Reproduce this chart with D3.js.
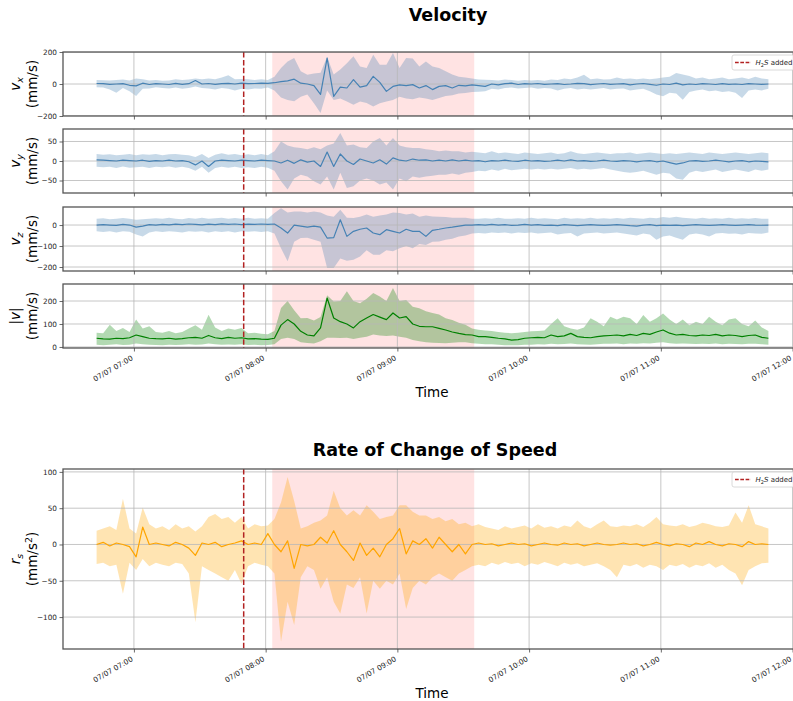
<!DOCTYPE html>
<html><head><meta charset="utf-8">
<script src="https://cdn.jsdelivr.net/npm/d3@7"></script>
<style>body{margin:0;background:#fff} svg{display:block;font-family:"DejaVu Sans",sans-serif}</style>
</head><body><svg id="c" width="793" height="701"></svg>
<script>
// ---- DATA (3-minute samples starting 07/07 06:43) ----
const startTime = "2023-07-07T06:43:00";
const stepMinutes = 3;
const h2sAddedTime = "2023-07-07T07:50:00";
const spanStart = "2023-07-07T08:03:00";
const spanEnd = "2023-07-07T09:35:00";
const tickTimes = ["2023-07-07T07:00:00","2023-07-07T08:00:00","2023-07-07T09:00:00","2023-07-07T10:00:00","2023-07-07T11:00:00","2023-07-07T12:00:00"];
const tickLabels = ["07/07 07:00","07/07 08:00","07/07 09:00","07/07 10:00","07/07 11:00","07/07 12:00"];

const vxMean = [3,2,-2,0,2,-8,-12,5,-3,2, 0,-3,4,-2,2,22,0,3,-2,2, 4,0,5,2,3,5,4,8,15,20,
 30,5,0,-10,-65,162,-77,-20,-25,27, -20,-10,48,10,-46,-15,-5,-10,-4,-25, -10,-35,-15,-10,-25,-8,-12,-5,-10,-15,
 0,-5,2,5,-3,2,0,3,-2,0, 2,-3,0,4,2,-4,0,3,-2,0, 2,-5,0,3,-2,-8,0,-3,5,-5, 0,-3,2,0,-3,2,-2,0,-3,2, 0,-2,0];
const vxLo = [-20,-22,-35,-55,-25,-45,-75,-30,-28,-20, -25,-28,-22,-30,-25,-15,-25,-28,-35,-25, -30,-40,-30,-35,-28,-30,-22,-40,-85,-100,
 -108,-80,-65,-120,-181,-40,-100,-90,-110,-129, -110,-119,-140,-120,-110,-100,-80,-90,-95,-85, -90,-100,-87,-75,-70,-60,-56,-50,-48,-45,
 -30,-35,-25,-22,-28,-25,-22,-30,-25,-28, -40,-30,-25,-35,-30,-35,-30,-25,-35,-30, -28,-40,-35,-30,-45,-65,-77,-55,-60,-98, -50,-40,-35,-45,-40,-50,-45,-55,-87,-40, -35,-40,-30];
const vxHi = [25,24,22,25,28,22,35,30,22,25, 20,22,30,25,28,35,30,35,30,40, 55,30,32,30,25,30,25,45,100,140,
 162,80,58,65,70,170,60,90,130,173, 110,100,183,120,120,193,100,162,160,110, 141,110,100,80,60,45,40,35,28,27,
 25,22,28,25,20,25,22,25,20,28, 25,35,30,40,58,30,35,28,30,40, 32,35,30,35,30,35,40,45,68,60, 50,35,40,30,35,40,30,35,40,32, 45,35,30];

const vyMean = [3,2,1,0,2,1,0,2,-1,1, 0,2,0,1,-2,-10,0,-14,0,2, 1,0,2,1,0,2,1,0,-5,2,
 -6,3,-3,0,-14,23,-14,18,0,-9, 5,0,-5,3,-8,8,2,0,5,2, 3,0,2,0,3,0,2,0,1,-2,
 1,0,2,0,-1,2,0,1,-1,0, 2,0,3,0,1,-1,0,2,0,-1, 1,0,-2,0,1,-2,0,-4,-8,-5, 0,1,-1,0,2,0,-2,0,1,-2, 0,-1,-2];
const vyLo = [-15,-16,-15,-18,-14,-17,-16,-15,-18,-15, -16,-14,-17,-15,-18,-25,-15,-30,-18,-15, -17,-15,-18,-16,-18,-15,-17,-25,-52,-73,
 -45,-35,-40,-52,-60,-40,-73,-30,-69,-65, -50,-45,-50,-60,-55,-73,-45,-52,-40,-43, -40,-38,-35,-35,-32,-35,-30,-28,-25,-26,
 -22,-25,-20,-24,-22,-20,-22,-20,-22,-20, -22,-20,-18,-22,-20,-22,-20,-18,-22,-25, -28,-30,-28,-25,-30,-35,-30,-32,-45,-48, -30,-25,-28,-25,-22,-28,-25,-22,-25,-28, -22,-25,-22];
const vyHi = [18,16,17,15,16,18,15,17,16,18, 15,17,18,16,15,10,18,8,16,20, 16,18,15,17,15,18,15,25,50,40,
 35,33,30,35,30,40,45,72,40,42, 35,33,50,59,40,59,40,35,33,33, 30,28,25,27,25,25,22,24,22,20,
 25,20,22,20,18,22,20,18,20,22, 18,20,25,20,18,20,22,20,18,20, 20,22,18,20,22,20,18,20,18,20, 22,20,18,22,20,18,20,22,20,18, 20,22,20];

const vzMean = [0,2,0,-2,3,0,-10,-5,2,0, 3,1,4,2,5,3,1,4,2,6, 3,5,2,4,3,5,3,5,-14,-38,
 0,-5,-10,-5,-10,-62,-60,25,-54,-30, -20,-14,-38,-46,-22,-30,-38,-20,-30,-30, -54,-25,-20,-14,-10,-5,0,0,2,0,
 3,0,2,-2,0,3,0,2,-2,0, -3,2,0,-3,0,2,0,-2,0,2, 0,-3,-5,0,2,-3,0,-2,0,-3, 0,2,0,-2,0,2,0,-2,0,2, 0,-1,0];
const vzLo = [-30,-33,-30,-35,-30,-32,-45,-55,-35,-30, -33,-30,-32,-35,-30,-32,-30,-35,-30,-33, -30,-35,-30,-32,-30,-33,-30,-40,-110,-173,
 -80,-62,-60,-70,-80,-205,-205,-160,-170,-165, -150,-120,-141,-141,-120,-125,-110,-100,-110,-90, -95,-80,-78,-70,-65,-55,-50,-40,-38,-40,
 -35,-38,-35,-40,-35,-38,-35,-40,-38,-35, -45,-40,-38,-54,-40,-38,-35,-40,-38,-35, -40,-45,-50,-40,-45,-70,-55,-50,-60,-70, -45,-40,-45,-55,-40,-38,-42,-40,-45,-38, -40,-42,-35];
const vzHi = [30,32,28,30,33,30,25,28,30,32, 30,35,30,28,33,30,35,30,32,35, 30,33,30,35,30,32,30,57,80,60,
 65,65,60,65,60,45,40,73,35,33, 40,50,40,45,50,60,57,50,55,40, 45,41,40,38,35,35,35,30,30,32,
 30,35,30,30,32,30,35,30,32,30, 28,35,30,32,30,35,30,32,30,33, 30,35,32,30,35,32,38,35,40,35, 32,30,35,30,32,30,35,30,32,30, 33,30,30];

const speedMean = [38,35,34,38,36,40,52,45,38,36, 35,38,34,36,40,42,38,50,40,36, 42,38,40,35,36,34,33,38,95,119,
 100,68,52,48,83,213,126,110,100,83, 110,126,141,130,119,148,126,132,100,90, 88,88,81,74,65,59,54,52,45,45,
 42,38,35,30,32,38,40,42,40,52, 45,48,59,45,42,40,45,48,50,52, 48,55,50,59,55,65,74,60,52,55, 50,48,52,50,55,48,52,50,45,50, 52,42,38];
const speedLo = [10,8,10,12,9,10,15,12,10,9, 8,10,9,10,12,10,11,15,12,10, 11,10,12,9,10,8,9,12,35,40,
 35,20,17,15,25,40,40,39,40,35, 40,45,54,50,48,50,45,40,30,25, 20,18,17,16,18,20,20,16,14,12,
 12,10,8,7,8,10,10,12,11,14, 12,13,15,12,11,10,12,14,14,15, 12,15,14,16,15,18,20,16,14,15, 14,13,14,13,15,12,14,13,12,14, 14,12,10];
const speedHi = [62,60,97,70,83,65,119,80,90,65, 62,70,60,65,80,95,75,140,85,70, 80,75,82,60,62,58,55,70,170,200,
 160,125,126,115,130,225,198,200,242,200, 190,210,235,220,200,257,200,204,175,168, 155,148,141,125,117,105,97,80,75,72,
 70,65,62,60,62,65,68,70,72,100, 125,90,80,75,85,125,110,90,132,120, 132,125,100,139,110,125,146,120,100,120, 95,110,100,132,110,95,120,125,100,90, 115,85,70];

const rsMean = [0,3,-2,2,0,-3,-17,24,0,2, 0,-2,3,0,-5,-15,2,0,3,-3, 0,2,5,0,2,0,15,0,-10,5,
 -33,0,-2,0,10,2,19,0,-10,-22, 2,-15,-5,-17,0,8,22,-13,5,0, 8,-5,10,0,-10,0,-13,0,2,0,
 1,-2,0,2,0,1,-2,0,2,0, -1,2,0,1,-2,0,2,0,-1,0, 2,0,1,-2,0,3,0,-2,1,0, -3,2,0,4,0,-2,1,0,-3,4, 0,1,0];
const rsLo = [-27,-25,-30,-28,-68,-25,-35,-20,-30,-25, -28,-30,-25,-27,-40,-107,-30,-35,-40,-45, -50,-35,-54,-30,-25,-28,-30,-40,-134,-79,
 -111,-45,-30,-35,-61,-45,-79,-95,-55,-60, -45,-95,-50,-61,-50,-55,-40,-89,-60,-50, -55,-45,-40,-45,-50,-40,-35,-30,-28,-30,
 -25,-28,-24,-27,-25,-30,-26,-28,-24,-27, -30,-25,-28,-26,-30,-28,-26,-30,-35,-45, -28,-30,-27,-32,-28,-30,-35,-28,-30,-27, -32,-28,-30,-26,-32,-28,-35,-40,-56,-35, -30,-26,-25];
const rsHi = [19,22,25,20,63,22,15,51,28,22, 25,20,28,22,25,18,25,38,42,35, 38,30,38,22,28,25,26,35,58,93,
 60,22,25,30,33,40,74,50,40,47, 40,54,45,35,38,40,54,54,45,40, 40,35,38,32,35,28,30,25,28,24,
 22,20,25,22,24,26,22,28,23,25, 22,26,24,33,25,22,28,33,25,24, 26,25,28,24,30,38,28,26,25,28, 24,26,30,28,25,24,26,44,30,54, 28,25,22];

const yTicksVx = [-200, 0, 200];
const yTicksVy = [-50, 0, 50];
const yTicksVz = [-200, -100, 0];
const yTicksSpeed = [0, 100, 200];
const yTicksRs = [-100, -50, 0, 50, 100];

// ---- CHART ----
const svg = d3.select("#c");
const t0 = new Date(startTime);
const times = vxMean.map((_, i) => d3.timeMinute.offset(t0, stepMinutes * i));
const x = d3.scaleTime()
  .domain([new Date("2023-07-07T06:27:42"), new Date("2023-07-07T12:04:18")])
  .range([63, 802]);

const BLUE = "#4682b4", GREEN = "#008000", ORANGE = "#ffa500";
const panels = [
  {top:52, bottom:116, domain:[-200,200], ticks:yTicksVx, mean:vxMean, lo:vxLo, hi:vxHi, color:BLUE, sym:"v", sub:"x", unit:"(mm/s)", legend:true, xlab:false},
  {top:129, bottom:193, domain:[-82,82], ticks:yTicksVy, mean:vyMean, lo:vyLo, hi:vyHi, color:BLUE, sym:"v", sub:"y", unit:"(mm/s)", xlab:false},
  {top:207, bottom:271, domain:[-219,86], ticks:yTicksVz, mean:vzMean, lo:vzLo, hi:vzHi, color:BLUE, sym:"v", sub:"z", unit:"(mm/s)", xlab:false},
  {top:284, bottom:348, domain:[-4.5,274], ticks:yTicksSpeed, mean:speedMean, lo:speedLo, hi:speedHi, color:GREEN, sym:"|v|", unit:"(mm/s)", xlab:true},
  {top:469, bottom:649, domain:[-144,104], ticks:yTicksRs, mean:rsMean, lo:rsLo, hi:rsHi, color:ORANGE, sym:"r", sub:"s", unit:"(mm/s²)", legend:true, xlab:true}
];

const fmt = d => (d < 0 ? "\u2212" + Math.abs(d) : String(d));
const defs = svg.append("defs");

panels.forEach((p, k) => {
  const y = d3.scaleLinear().domain(p.domain).range([p.bottom, p.top]);
  const g = svg.append("g");
  const cid = "clip" + k;
  defs.append("clipPath").attr("id", cid).append("rect")
    .attr("x", 63).attr("y", p.top).attr("width", 739).attr("height", p.bottom - p.top);
  const plot = g.append("g").attr("clip-path", `url(#${cid})`);

  plot.append("rect")
    .attr("x", x(new Date(spanStart))).attr("y", p.top)
    .attr("width", x(new Date(spanEnd)) - x(new Date(spanStart)))
    .attr("height", p.bottom - p.top)
    .attr("fill", "rgba(255,0,0,0.11)");

  const area = d3.area().x((d, i) => x(times[i])).y0((d, i) => y(p.lo[i])).y1((d, i) => y(p.hi[i]));
  plot.append("path").datum(p.mean).attr("d", area).attr("fill", p.color).attr("fill-opacity", 0.3);

  const tt = tickTimes.map(s => new Date(s));
  plot.selectAll(".gx").data(tt).join("line")
    .attr("x1", d => x(d)).attr("x2", d => x(d)).attr("y1", p.top).attr("y2", p.bottom)
    .attr("stroke", "#b8b8b8").attr("stroke-width", 0.8);
  plot.selectAll(".gy").data(p.ticks).join("line")
    .attr("x1", 63).attr("x2", 802).attr("y1", d => y(d)).attr("y2", d => y(d))
    .attr("stroke", "#b8b8b8").attr("stroke-width", 0.8);

  const line = d3.line().x((d, i) => x(times[i])).y(d => y(d));
  plot.append("path").datum(p.mean).attr("d", line).attr("fill", "none")
    .attr("stroke", p.color).attr("stroke-width", 1.2).attr("stroke-linejoin", "round");

  const hx = x(new Date(h2sAddedTime));
  plot.append("line").attr("x1", hx).attr("x2", hx).attr("y1", p.top).attr("y2", p.bottom)
    .attr("stroke", "#b22222").attr("stroke-width", 1.5).attr("stroke-dasharray", "5.5,2.4");

  g.append("rect").attr("x", 63).attr("y", p.top).attr("width", 739).attr("height", p.bottom - p.top)
    .attr("fill", "none").attr("stroke", "#555").attr("stroke-width", 1.3);

  const ya = g.append("g").attr("transform", "translate(63,0)")
    .call(d3.axisLeft(y).tickValues(p.ticks).tickSize(3.5).tickPadding(2.5).tickFormat(fmt));
  ya.select(".domain").remove();
  ya.selectAll("line").attr("stroke", "#444").attr("stroke-width", 0.8);
  ya.selectAll("text").attr("font-size", 7.3).attr("fill", "#262626").attr("font-family", "DejaVu Sans");

  const xa = g.append("g").attr("transform", `translate(0,${p.bottom})`)
    .call(d3.axisBottom(x).tickValues(tt).tickSize(3.5).tickFormat((d, i) => p.xlab ? tickLabels[i] : ""));
  xa.select(".domain").remove();
  xa.selectAll("line").attr("stroke", "#444").attr("stroke-width", 0.8);
  xa.selectAll("text").attr("font-size", 7.3).attr("fill", "#262626").attr("font-family", "DejaVu Sans")
    .attr("x", 0).attr("y", 0).attr("dy", 0).attr("text-anchor", "end")
    .attr("transform", "translate(-1,11.5) rotate(-30)");

  const cy = (p.top + p.bottom) / 2;
  const l1 = g.append("text").attr("transform", `translate(20,${cy}) rotate(-90)`)
    .attr("text-anchor", "middle").attr("font-size", 13.5).attr("fill", "#000");
  if (p.sym === "|v|") {
    l1.append("tspan").text("|");
    l1.append("tspan").attr("font-style", "italic").text("v");
    l1.append("tspan").text("|");
  } else {
    l1.append("tspan").attr("font-style", "italic").text(p.sym);
    l1.append("tspan").attr("font-style", "italic").attr("font-size", 9.5).attr("dy", 3).text(p.sub);
  }
  const l2 = g.append("text").attr("transform", `translate(37,${cy}) rotate(-90)`)
    .attr("text-anchor", "middle").attr("font-size", 13.5).attr("fill", "#000");
  if (p.unit.includes("²")) {
    l2.append("tspan").text("(mm/s");
    l2.append("tspan").attr("font-size", 9.5).attr("dy", -5).text("2");
    l2.append("tspan").attr("dy", 5).text(")");
  } else {
    l2.text(p.unit);
  }

  if (p.legend) {
    const lg = g.append("g").attr("transform", `translate(732,${p.top + 3})`);
    lg.append("rect").attr("width", 66).attr("height", 15).attr("rx", 2)
      .attr("fill", "rgba(255,255,255,0.8)").attr("stroke", "#d0d0d0").attr("stroke-width", 0.8);
    lg.append("line").attr("x1", 3).attr("x2", 19).attr("y1", 7.5).attr("y2", 7.5)
      .attr("stroke", "#b22222").attr("stroke-width", 1.5).attr("stroke-dasharray", "3.7,1.6");
    const lt = lg.append("text").attr("x", 23.5).attr("y", 10.2).attr("font-size", 7).attr("fill", "#262626");
    lt.append("tspan").attr("font-style", "italic").text("H");
    lt.append("tspan").attr("font-size", 5).attr("dy", 1.8).text("2");
    lt.append("tspan").attr("font-style", "italic").attr("dy", -1.8).text("S");
    lt.append("tspan").text(" added");
  }

  if (p.xlab) {
    g.append("text").attr("x", 432).attr("y", p.bottom + 49).attr("text-anchor", "middle")
      .attr("font-size", 13.5).attr("fill", "#000").text("Time");
  }
});

svg.append("text").attr("x", 448).attr("y", 21).attr("text-anchor", "middle")
  .attr("font-size", 17.5).attr("font-weight", "bold").text("Velocity");
svg.append("text").attr("x", 435).attr("y", 456).attr("text-anchor", "middle")
  .attr("font-size", 17.5).attr("font-weight", "bold").text("Rate of Change of Speed");
</script></body></html>
